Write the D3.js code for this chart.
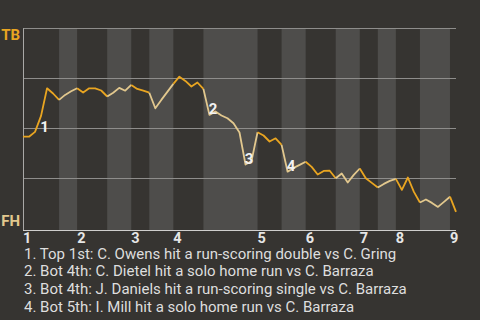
<!DOCTYPE html>
<html>
<head>
<meta charset="utf-8">
<script src="https://cdn.jsdelivr.net/npm/d3@7"></script>
<style>
  body { margin: 0; background: #363431; }
  svg { display: block; font-family: Roboto, "Noto Sans", sans-serif; }
</style>
</head>
<body>
<svg id="chart"></svg>
<script>
// TB win probability (%) after each plate appearance
const winProb = [
    45.8, 45.8, 48.2, 56.2, 70.0, 67.4, 64.2, 66.7, 68.5, 70.0,
    67.9, 70.0, 70.0, 68.9, 65.9, 67.8, 70.2, 68.8, 71.7, 69.7,
    68.8, 67.8, 60.0, 64.2, 68.2, 72.2, 75.8, 73.7, 70.9, 72.9,
    69.7, 56.7, 58.4, 56.4, 55.0, 52.5, 47.9, 31.9, 33.7, 48.0,
    46.4, 43.4, 45.0, 41.7, 28.3, 30.2, 31.7, 33.3, 30.7, 26.9,
    28.7, 28.8, 25.0, 27.4, 22.9, 26.7, 29.9, 25.0, 22.7, 20.4,
    22.2, 23.7, 24.7, 19.2, 25.4, 18.2, 12.9, 14.4, 12.7, 10.7,
    13.2, 15.8, 8.2
];
// plate appearance index where each half inning starts (last = end)
const halfStarts = [0, 6, 9, 14, 18, 21, 25, 30, 39, 43, 47, 52, 56, 59, 62, 66, 71, 72];
const innings = ["1", "2", "3", "4", "5", "6", "7", "8", "9"];
const teams = ["TB", "FH"];
const eventIdx = [3, 31, 37, 44];
const notes = [
    "1. Top 1st: C. Owens hit a run-scoring double vs C. Gring",
    "2. Bot 4th: C. Dietel hit a solo home run vs C. Barraza",
    "3. Bot 4th: J. Daniels hit a run-scoring single vs C. Barraza",
    "4. Bot 5th: I. Mill hit a solo home run vs C. Barraza"
];

const W = 480, H = 320;
const plotL = 23, plotR = 456, plotT = 28.3, plotB = 228.3, axisY = 230;
const colTB = "#e9a521", colFH = "#e2c88e";

const svg = d3.select("#chart").attr("width", W).attr("height", H);

const x = d3.scaleLinear().domain([0, winProb.length - 1]).range([plotL, plotR]);
const y = d3.scaleLinear().domain([0, 100]).range([plotB, plotT]);

// half inning bands
const halves = d3.range(halfStarts.length - 1).map(i => ({ i: i, s: halfStarts[i], e: halfStarts[i + 1] }));
svg.append("g").selectAll("rect")
    .data(halves.filter(d => d.i % 2 == 1))
    .enter().append("rect")
    .attr("x", d => x(d.s))
    .attr("width", d => x(d.e) - x(d.s))
    .attr("y", plotT)
    .attr("height", axisY - plotT)
    .attr("fill", "#4e4d4b");

// grid lines
svg.append("g").selectAll("line")
    .data([25, 50, 75, 100])
    .enter().append("line")
    .attr("x1", plotL).attr("x2", plotR)
    .attr("y1", d => Math.round(y(d)) + 0.5).attr("y2", d => Math.round(y(d)) + 0.5)
    .attr("stroke", "#8e8d8b").attr("stroke-width", 1);

svg.append("line")
    .attr("x1", plotL + 0.5).attr("x2", plotL + 0.5)
    .attr("y1", plotT).attr("y2", axisY)
    .attr("stroke", "#a9a8a6");
svg.append("line")
    .attr("x1", plotL).attr("x2", plotR)
    .attr("y1", axisY + 0.5).attr("y2", axisY + 0.5)
    .attr("stroke", "#cfcecc");

// team labels
svg.append("text").attr("x", 20).attr("y", 39.5)
    .attr("text-anchor", "end").attr("font-size", 15).attr("font-weight", "bold")
    .attr("fill", colTB).text(teams[0]);
svg.append("text").attr("x", 20).attr("y", 225.5)
    .attr("text-anchor", "end").attr("font-size", 15).attr("font-weight", "bold")
    .attr("fill", colFH).text(teams[1]);

// inning labels
svg.append("g").selectAll("text")
    .data(innings)
    .enter().append("text")
    .attr("x", (d, i) => x(halfStarts[i * 2]))
    .attr("y", 243)
    .attr("font-size", 14.5).attr("font-weight", "bold")
    .attr("fill", "#e6e6e6")
    .text(d => d);

// win probability line, one piece per half inning
const line = d3.line().x(d => x(d.i)).y(d => y(d.v));
svg.append("g").selectAll("path")
    .data(halves)
    .enter().append("path")
    .attr("d", d => line(d3.range(d.s, d.e + 1).map(k => ({ i: k, v: winProb[k] }))))
    .attr("fill", "none")
    .attr("stroke", d => d.i % 2 == 0 ? colTB : colFH)
    .attr("stroke-width", 1.8)
    .attr("stroke-linejoin", "round");

// event markers
svg.append("g").selectAll("text")
    .data(eventIdx)
    .enter().append("text")
    .attr("x", d => x(d) + 3.5)
    .attr("y", d => y(winProb[d]) + (winProb[d] > winProb[d - 1] ? 11 : -6))
    .attr("dy", "0.36em")
    .attr("text-anchor", "middle")
    .attr("font-size", 15).attr("font-weight", "bold")
    .attr("fill", "#f2f2f2")
    .text((d, i) => i + 1);

// notes
svg.append("g").selectAll("text")
    .data(notes)
    .enter().append("text")
    .attr("x", 24)
    .attr("y", (d, i) => 258.5 + i * 17.8)
    .attr("font-size", 15)
    .attr("fill", "#dedede")
    .text(d => d);
</script>
</body>
</html>
